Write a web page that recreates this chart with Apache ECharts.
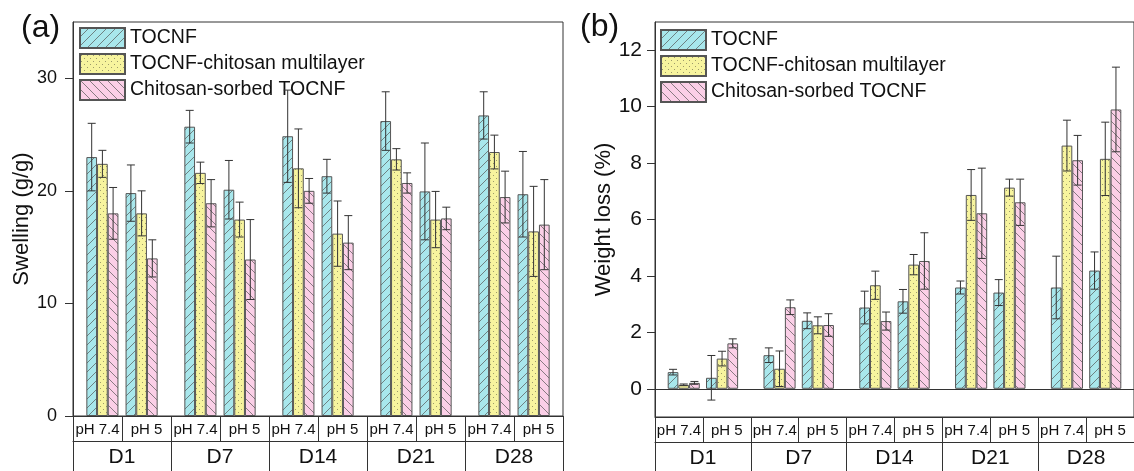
<!DOCTYPE html>
<html>
<head>
<meta charset="utf-8">
<script src="https://cdn.jsdelivr.net/npm/echarts@6/dist/echarts.min.js"></script>
<style>
  html, body { margin: 0; padding: 0; background: #fff; }
  #chart { width: 1134px; height: 471px; }
</style>
</head>
<body>
<div id="chart"></div>
<script>
// categories
var days = ['D1', 'D7', 'D14', 'D21', 'D28']
var phs = ['pH 7.4', 'pH 5']
var seriesNames = ['TOCNF', 'TOCNF-chitosan multilayer', 'Chitosan-sorbed TOCNF']

// (a) swelling, order: D1 pH7.4, D1 pH5, D7 pH7.4, ...
var swellTocnf = [23.0, 19.8, 25.7, 20.1, 24.85, 21.3, 26.2, 19.95, 26.7, 19.7]
var swellTocnfErr = [3.0, 2.5, 1.45, 2.6, 4.1, 1.5, 2.6, 4.3, 2.1, 3.8]
var swellMulti = [22.4, 18.0, 21.6, 17.45, 22.0, 16.2, 22.8, 17.45, 23.45, 16.4]
var swellMultiErr = [1.2, 2.0, 0.95, 1.55, 3.5, 2.9, 0.95, 2.5, 1.5, 4.0]
var swellSorbed = [18.0, 14.0, 18.9, 13.9, 20.0, 15.4, 20.7, 17.55, 19.45, 17.0]
var swellSorbedErr = [2.3, 1.65, 2.1, 3.55, 1.1, 2.4, 0.9, 1.0, 2.3, 4.0]

// (b) weight loss
var lossTocnf = [0.59, 0.39, 1.19, 2.41, 2.88, 3.10, 3.59, 3.41, 3.59, 4.19]
var lossTocnfErr = [0.1, 0.79, 0.26, 0.28, 0.58, 0.42, 0.23, 0.46, 1.11, 0.66]
var lossMulti = [0.14, 1.07, 0.71, 2.25, 3.67, 4.40, 6.87, 7.13, 8.62, 8.15]
var lossMultiErr = [0.03, 0.26, 0.63, 0.3, 0.5, 0.36, 0.9, 0.3, 0.9, 1.3]
var lossSorbed = [0.21, 1.61, 2.89, 2.26, 2.40, 4.53, 6.22, 6.61, 8.10, 9.90]
var lossSorbedErr = [0.05, 0.16, 0.26, 0.4, 0.32, 1.0, 1.6, 0.82, 0.88, 1.5]

// tick labels
var swellTicks = [0, 10, 20, 30]
var lossTicks = [0, 2, 4, 6, 8, 10, 12]

var FONT = 'Liberation Sans, Arial, sans-serif'
var BAR_W = 10.7

function hatch(bg, dir) {
  var c = document.createElement('canvas')
  c.width = 9; c.height = 9
  var g = c.getContext('2d')
  g.fillStyle = bg
  g.fillRect(0, 0, 9, 9)
  g.strokeStyle = '#555'
  g.lineWidth = 0.7
  g.beginPath()
  if (dir > 0) {
    g.moveTo(-1, 10); g.lineTo(10, -1)
  } else {
    g.moveTo(-1, -1); g.lineTo(10, 10)
  }
  g.stroke()
  return c
}

function dots(bg) {
  var c = document.createElement('canvas')
  c.width = 6; c.height = 6
  var g = c.getContext('2d')
  g.fillStyle = bg
  g.fillRect(0, 0, 6, 6)
  g.fillStyle = '#9c9a6a'
  g.fillRect(1, 1, 1, 1)
  g.fillRect(4, 4, 1, 1)
  return c
}

var fills = [
  { image: hatch('#a8e7ec', 1), repeat: 'repeat' },
  { image: dots('#f7f49e'), repeat: 'repeat' },
  { image: hatch('#fbcfe7', -1), repeat: 'repeat' }
]

// x position of each pH group on the value axis (one unit per pH cell)
function xPos(i) {
  var d = Math.floor(i / 2)
  return 2 * d + (i % 2 === 0 ? 0.6 : 1.4)
}

function barSeries(gi, s, vals) {
  return {
    name: seriesNames[s],
    type: 'bar',
    xAxisIndex: gi * 3,
    yAxisIndex: gi,
    barWidth: BAR_W,
    barGap: '0%',
    itemStyle: { color: fills[s], borderColor: '#555', borderWidth: 1 },
    data: vals.map(function (v, i) { return [xPos(i), v] }),
    z: 2
  }
}

function errSeries(gi, s, vals, errs) {
  var off = (s - 1) * BAR_W
  return {
    type: 'custom',
    xAxisIndex: gi * 3,
    yAxisIndex: gi,
    encode: { x: 0, y: 1 },
    z: 5,
    silent: true,
    renderItem: function (params, api) {
      var x = api.value(0), y = api.value(1), e = api.value(2)
      var top = api.coord([x, y + e])
      var bot = api.coord([x, y - e])
      var cx = top[0] + off
      var st = { stroke: '#333', lineWidth: 1 }
      return {
        type: 'group',
        children: [
          { type: 'line', shape: { x1: cx, y1: top[1], x2: cx, y2: bot[1] }, style: st },
          { type: 'line', shape: { x1: cx - 4, y1: top[1], x2: cx + 4, y2: top[1] }, style: st },
          { type: 'line', shape: { x1: cx - 4, y1: bot[1], x2: cx + 4, y2: bot[1] }, style: st }
        ]
      }
    },
    data: vals.map(function (v, i) { return [xPos(i), v, errs[i]] })
  }
}

function tableAxes(gi) {
  var phCats = []
  days.forEach(function () { phs.forEach(function (p) { phCats.push(p) }) })
  return [
    {
      gridIndex: gi, type: 'category', position: 'bottom', offset: 0,
      data: phCats,
      axisLine: { show: true, lineStyle: { color: '#333', width: 1 } },
      axisTick: { show: true, interval: 0, length: 25, lineStyle: { color: '#333' } },
      axisLabel: { interval: 0, margin: 6, fontSize: 15, color: '#111', fontFamily: FONT }
    },
    {
      gridIndex: gi, type: 'category', position: 'bottom', offset: 25,
      data: days,
      axisLine: { show: true, lineStyle: { color: '#333', width: 1 } },
      axisTick: { show: true, interval: 0, length: 40, lineStyle: { color: '#333' } },
      axisLabel: { interval: 0, margin: 6, fontSize: 21, color: '#111', fontFamily: FONT }
    }
  ]
}

function legendAt(left, top) {
  return {
    left: left, top: top, orient: 'vertical', padding: 0, itemGap: 4,
    itemWidth: 45, itemHeight: 20, icon: 'rect',
    data: seriesNames,
    textStyle: { fontSize: 19.5, lineHeight: 20, color: '#111', fontFamily: FONT }
  }
}

var chart = echarts.init(document.getElementById('chart'))

chart.setOption({
  animation: false,
  backgroundColor: '#fff',
  textStyle: { fontFamily: FONT },
  title: [
    { text: '(a)', left: 21, top: 12, padding: 0, textStyle: { fontSize: 32, fontWeight: 'normal', color: '#111', fontFamily: FONT } },
    { text: '(b)', left: 580, top: 11, padding: 0, textStyle: { fontSize: 32, fontWeight: 'normal', color: '#111', fontFamily: FONT } }
  ],
  legend: [legendAt(79, 27), legendAt(660, 29)],
  grid: [
    { left: 73, top: 22, width: 490, height: 394, show: true, borderColor: '#333', borderWidth: 1 },
    { left: 655, top: 22, width: 487, height: 395, show: true, borderColor: '#333', borderWidth: 1 }
  ],
  xAxis: [
    { gridIndex: 0, type: 'value', min: 0, max: 10, position: 'bottom', show: false }
  ].concat(tableAxes(0)).concat([
    {
      gridIndex: 1, type: 'value', min: 0, max: 10, position: 'bottom',
      axisLine: { show: true, onZero: true, lineStyle: { color: '#333', width: 1 } },
      axisTick: { show: false }, axisLabel: { show: false }, splitLine: { show: false }
    }
  ]).concat(tableAxes(1)),
  yAxis: [
    {
      gridIndex: 0, type: 'value', min: 0, max: 35,
      name: 'Swelling (g/g)', nameLocation: 'middle', nameGap: 40,
      nameTextStyle: { fontSize: 22, color: '#111', fontFamily: FONT },
      axisLine: { show: true, lineStyle: { color: '#333' } },
      axisTick: { show: true, length: 8, customValues: swellTicks, lineStyle: { color: '#333' } },
      axisLabel: { customValues: swellTicks, margin: 16, fontSize: 18, color: '#111', fontFamily: FONT },
      splitLine: { show: false }
    },
    {
      gridIndex: 1, type: 'value', min: -1, max: 13,
      name: 'Weight loss (%)', nameLocation: 'middle', nameGap: 40,
      nameTextStyle: { fontSize: 22, color: '#111', fontFamily: FONT },
      axisLine: { show: true, lineStyle: { color: '#333' } },
      axisTick: { show: true, length: 8, customValues: lossTicks, lineStyle: { color: '#333' } },
      axisLabel: { customValues: lossTicks, margin: 13, fontSize: 21, color: '#111', fontFamily: FONT },
      splitLine: { show: false }
    }
  ],
  series: [
    barSeries(0, 0, swellTocnf),
    barSeries(0, 1, swellMulti),
    barSeries(0, 2, swellSorbed),
    errSeries(0, 0, swellTocnf, swellTocnfErr),
    errSeries(0, 1, swellMulti, swellMultiErr),
    errSeries(0, 2, swellSorbed, swellSorbedErr),
    barSeries(1, 0, lossTocnf),
    barSeries(1, 1, lossMulti),
    barSeries(1, 2, lossSorbed),
    errSeries(1, 0, lossTocnf, lossTocnfErr),
    errSeries(1, 1, lossMulti, lossMultiErr),
    errSeries(1, 2, lossSorbed, lossSorbedErr)
  ]
})
</script>
</body>
</html>
